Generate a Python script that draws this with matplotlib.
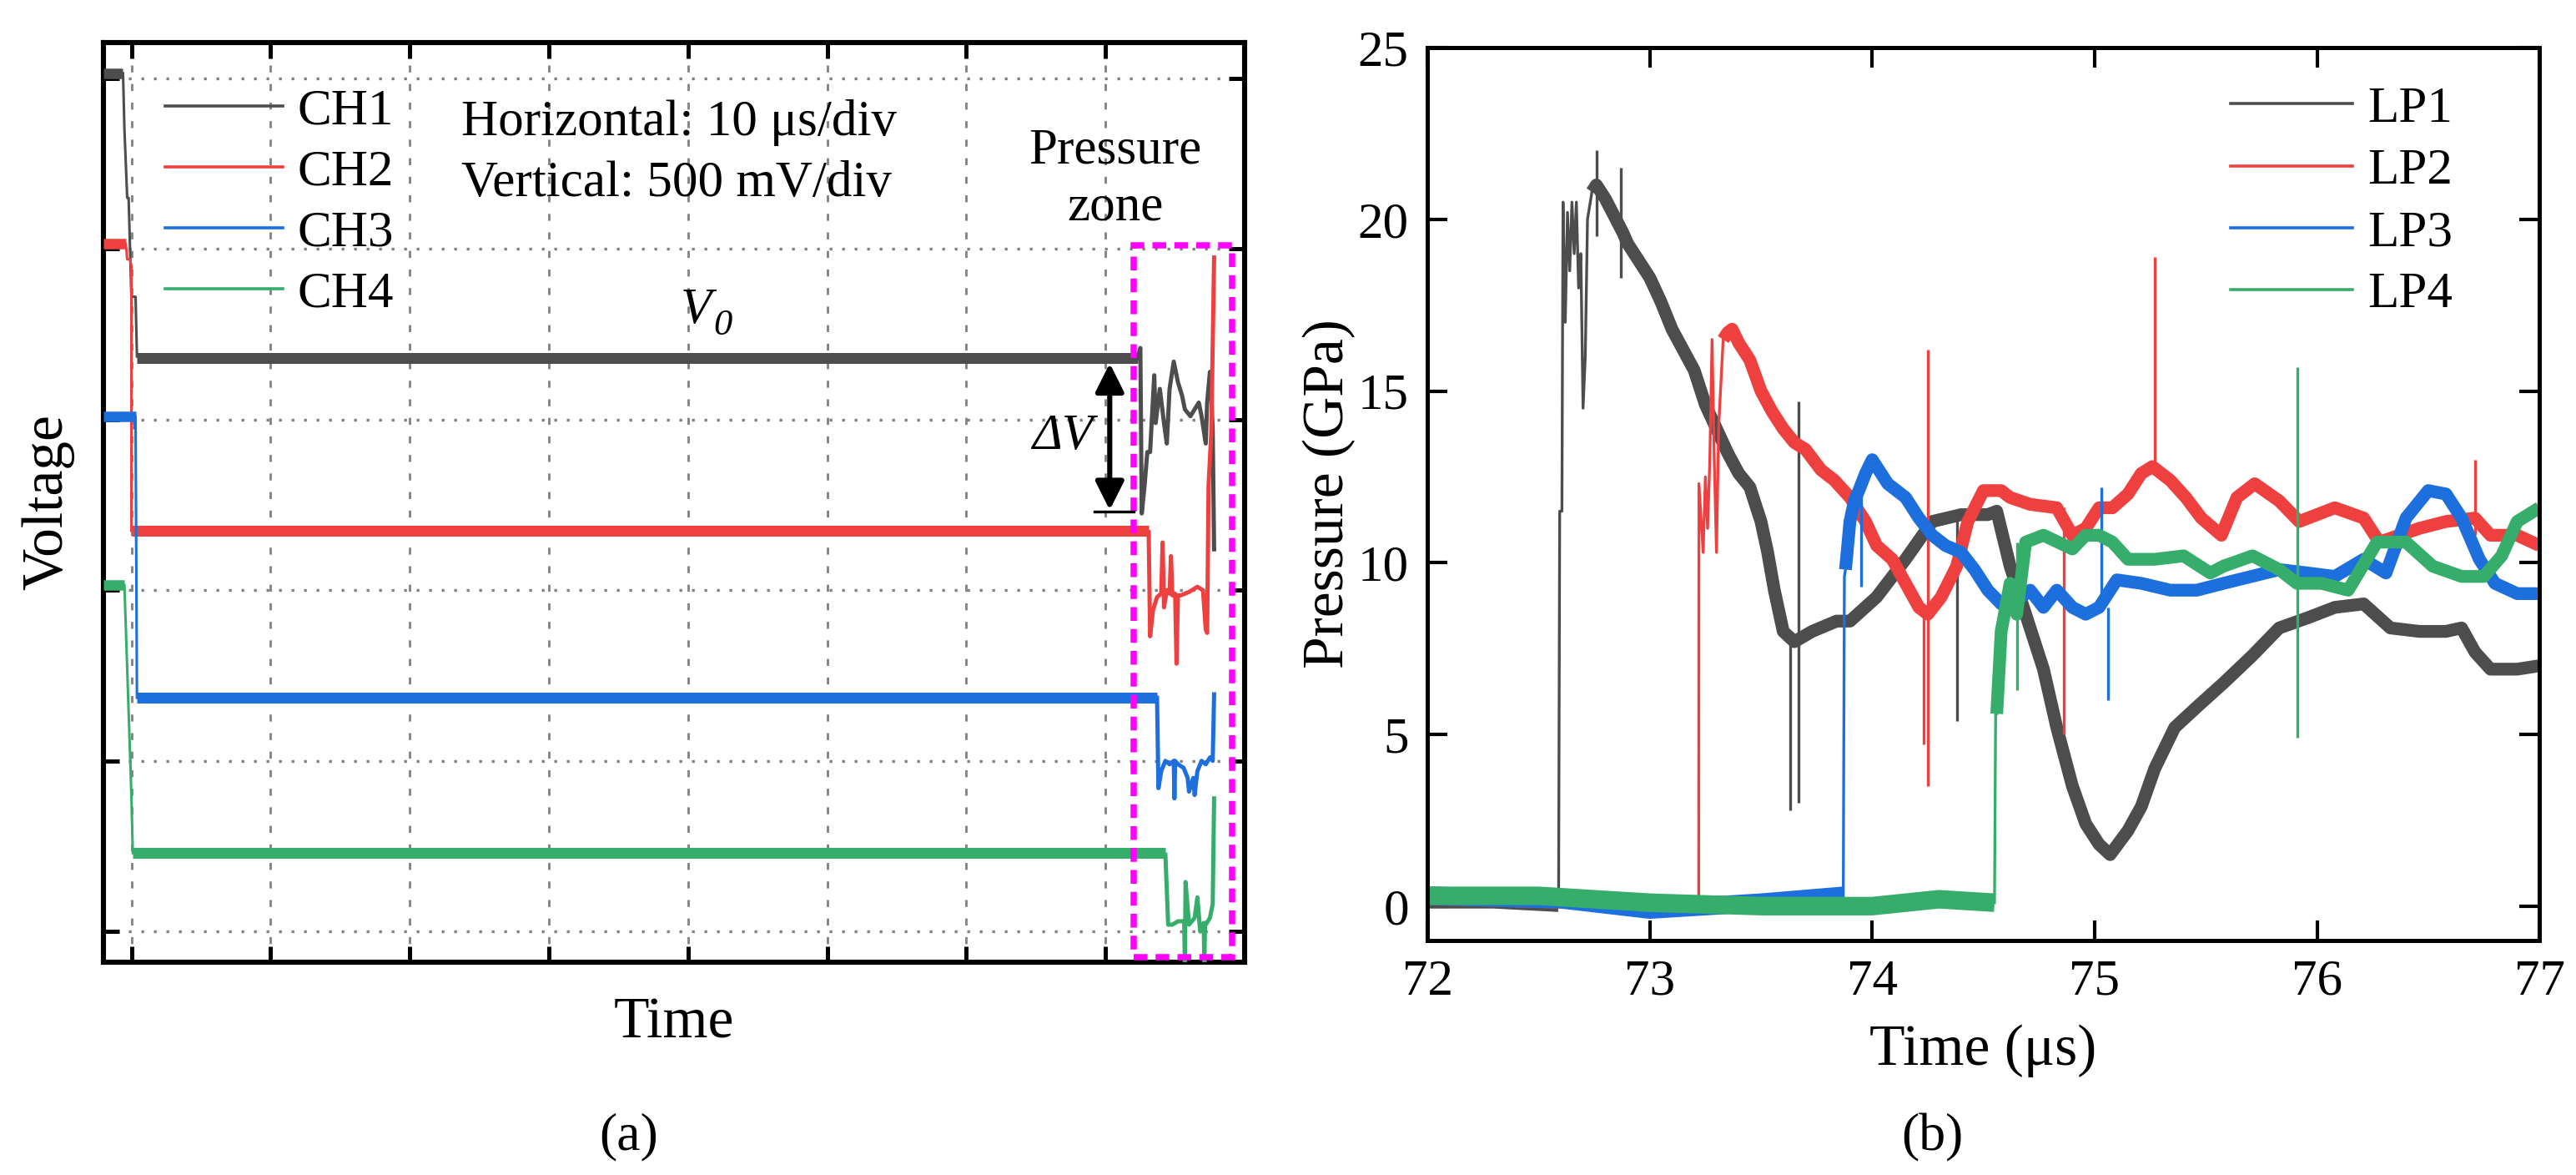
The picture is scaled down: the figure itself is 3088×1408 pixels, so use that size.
import matplotlib
matplotlib.use("Agg")
import matplotlib.pyplot as plt
from matplotlib.lines import Line2D
from matplotlib.patches import Rectangle

plt.rcParams['font.family'] = ['Liberation Serif', 'DejaVu Serif']

GRAY = "#4d4d4d"
RED = "#ef4040"
BLUE = "#1e6fde"
GREEN = "#36ad6a"

# ---------------- (a) oscilloscope traces, in divisions ----------------
ch_names = ["CH1", "CH2", "CH3", "CH4"]

# level before trigger
ch1_pre_t = [-0.2, -0.06]
ch1_pre_v = [5.03, 5.03]
ch2_pre_t = [-0.2, -0.04]
ch2_pre_v = [4.03, 4.03]
ch3_pre_t = [-0.2, 0.03]
ch3_pre_v = [3.02, 3.02]
ch4_pre_t = [-0.2, -0.05]
ch4_pre_v = [2.03, 2.03]

# falling edges
ch1_edge_t = [-0.06, -0.05, -0.03, -0.02, 0.0, 0.03, 0.04]
ch1_edge_v = [5.03, 4.7, 4.3, 4.3, 3.72, 3.72, 3.37]
ch2_edge_t = [-0.04, -0.03, -0.01, 0.0, 0.0]
ch2_edge_v = [4.03, 3.94, 3.94, 3.9, 2.35]
ch3_edge_t = [0.02, 0.03, 0.04]
ch3_edge_v = [2.95, 3.02, 1.37]
ch4_edge_t = [-0.05, 0.0, 0.01]
ch4_edge_v = [2.03, 0.8, 0.46]

# steady level V0
ch1_flat_t = [0.04, 7.23]
ch1_flat_v = [3.36, 3.36]
ch2_flat_t = [0.0, 7.31]
ch2_flat_v = [2.35, 2.35]
ch3_flat_t = [0.04, 7.37]
ch3_flat_v = [1.37, 1.37]
ch4_flat_t = [0.01, 7.43]
ch4_flat_v = [0.46, 0.46]

# pressure zone
ch1_zone_t = [7.23, 7.25, 7.26, 7.28, 7.30, 7.32, 7.35, 7.36, 7.39, 7.42, 7.44, 7.46, 7.49,
              7.52, 7.55, 7.57, 7.61, 7.64, 7.67, 7.69, 7.72, 7.73, 7.75, 7.76, 7.77, 7.78]
ch1_zone_v = [3.36, 3.42, 2.45, 2.61, 2.81, 2.81, 3.26, 2.98, 3.18, 2.98, 2.86, 3.18, 3.34,
              3.22, 3.14, 3.06, 3.02, 3.06, 3.10, 3.02, 2.86, 3.10, 3.28, 3.15, 2.93, 2.24]
ch2_zone_t = [7.31, 7.32, 7.34, 7.37, 7.40, 7.41, 7.42, 7.44, 7.46, 7.47, 7.48, 7.50, 7.51,
              7.52, 7.54, 7.60, 7.66, 7.70, 7.72, 7.73, 7.74, 7.76, 7.78]
ch2_zone_v = [2.34, 1.73, 1.88, 1.96, 1.98, 2.28, 1.90, 2.00, 1.98, 2.20, 1.97, 1.98, 1.57,
              1.97, 1.97, 1.99, 2.02, 2.00, 1.77, 1.75, 2.61, 2.93, 3.95]
ch3_zone_t = [7.37, 7.38, 7.40, 7.43, 7.46, 7.49, 7.495, 7.50, 7.52, 7.56, 7.59, 7.60, 7.63,
              7.64, 7.66, 7.69, 7.72, 7.75, 7.77, 7.78]
ch3_zone_v = [1.37, 0.84, 0.94, 1.00, 0.98, 1.00, 0.78, 1.00, 0.98, 0.96, 0.90, 0.82, 0.90,
              0.80, 0.94, 1.00, 0.98, 1.02, 1.00, 1.39]
ch4_zone_t = [7.43, 7.45, 7.48, 7.52, 7.565, 7.57, 7.575, 7.60, 7.64, 7.66, 7.68, 7.705,
              7.71, 7.715, 7.72, 7.75, 7.77, 7.78]
ch4_zone_v = [0.45, 0.04, 0.04, 0.06, 0.06, -0.2, 0.29, 0.04, 0.08, 0.20, 0.00, 0.05,
              -0.18, 0.05, 0.04, 0.08, 0.16, 0.78]

zone_box = [7.2, 7.91, -0.15, 4.02]      # x0, x1, y0, y1

# ---------------- (b) pressure histories ----------------
lp_names = ["LP1", "LP2", "LP3", "LP4"]

lp1_base_t = [72.0, 72.3, 72.59]
lp1_base_p = [0.2, 0.2, 0.1]
lp2_base_t = [72.0, 72.6, 73.22]
lp2_base_p = [0.3, 0.2, 0.0]
lp3_base_t = [72.0, 72.6, 73.0, 73.5, 73.87]
lp3_base_p = [0.3, 0.2, -0.1, 0.1, 0.3]
lp4_base_t = [72.0, 72.5, 73.0, 73.5, 74.0, 74.3, 74.55]
lp4_base_p = [0.3, 0.3, 0.1, 0.0, 0.0, 0.2, 0.1]

# thin jagged fronts
lp1_edge_t = [72.59, 72.595, 72.605, 72.61, 72.62, 72.63, 72.64, 72.65, 72.66, 72.67,
              72.68, 72.69, 72.70, 72.71, 72.72, 72.74]
lp1_edge_p = [0.1, 11.5, 11.5, 20.5, 17.0, 20.2, 18.5, 20.5, 19.0, 20.5,
              18.0, 19.0, 14.5, 16.0, 20.0, 20.8]
lp2_edge_t = [73.22, 73.221, 73.24, 73.25, 73.26, 73.27, 73.28, 73.29, 73.30, 73.31, 73.33]
lp2_edge_p = [0.1, 12.3, 10.3, 12.5, 11.0, 13.0, 16.5, 13.0, 10.3, 14.0, 16.5]
lp3_edge_t = [73.87, 73.875, 73.88]
lp3_edge_p = [0.3, 9.6, 9.8]
lp4_edge_t = [74.55, 74.555, 74.56]
lp4_edge_p = [0.1, 5.6, 5.6]

lp1_t = [72.74, 72.76, 72.80, 72.84, 72.88, 72.90, 72.95, 73.00, 73.05,
         73.10, 73.15, 73.20, 73.25, 73.30, 73.35, 73.40, 73.45, 73.50, 73.53, 73.56, 73.60,
         73.65, 73.73, 73.84, 73.90, 74.02, 74.15, 74.27, 74.40, 74.52, 74.56, 74.62, 74.70,
         74.77, 74.83, 74.90, 74.96, 75.02, 75.07, 75.15, 75.21, 75.27, 75.36, 75.46, 75.58,
         75.71, 75.83, 75.96, 76.08, 76.21, 76.33, 76.46, 76.58, 76.65, 76.71, 76.78, 76.90,
         77.00]
lp1_p = [20.8, 21.0, 20.6, 20.1, 19.6, 19.3, 18.8, 18.3, 17.6,
         16.8, 16.2, 15.6, 14.6, 13.9, 13.2, 12.6, 12.2, 11.2, 10.3, 9.2, 8.0,
         7.7, 8.0, 8.3, 8.3, 9.0, 10.1, 11.2, 11.4, 11.4, 11.5, 9.9, 8.3,
         6.9, 5.2, 3.5, 2.4, 1.8, 1.5, 2.2, 2.9, 4.0, 5.2, 5.8, 6.5,
         7.3, 8.1, 8.4, 8.7, 8.8, 8.1, 8.0, 8.0, 8.1, 7.4, 6.9, 6.9,
         7.0]
lp2_t = [73.33, 73.35, 73.37, 73.40, 73.45, 73.50, 73.55, 73.60,
         73.65, 73.70, 73.77, 73.83, 73.90, 73.97, 74.02, 74.09, 74.15, 74.21, 74.25, 74.31,
         74.38, 74.43, 74.50, 74.58, 74.62, 74.71, 74.83, 74.90, 74.96, 75.02, 75.08, 75.15,
         75.21, 75.26, 75.34, 75.41, 75.48, 75.57, 75.64, 75.72, 75.83, 75.92, 76.08, 76.21,
         76.28, 76.37, 76.46, 76.58, 76.71, 76.78, 76.90, 77.00]
lp2_p = [16.5, 16.7, 16.8, 16.4, 15.9, 15.0, 14.4, 13.9,
         13.5, 13.3, 12.7, 12.4, 11.9, 11.2, 10.5, 10.1, 9.4, 8.7, 8.5, 9.0,
         9.9, 11.2, 12.1, 12.1, 11.9, 11.7, 11.6, 10.8, 11.0, 11.6, 11.6, 12.0,
         12.6, 12.8, 12.4, 11.9, 11.3, 10.8, 11.9, 12.3, 11.8, 11.2, 11.6, 11.3,
         10.6, 10.8, 11.0, 11.2, 11.3, 10.8, 10.8, 10.5]
lp3_t = [73.88, 73.90, 73.92, 73.94, 73.97, 74.00, 74.07, 74.15, 74.21, 74.27, 74.33, 74.40,
         74.46, 74.52, 74.58, 74.65, 74.71, 74.77, 74.83, 74.90, 74.96, 75.02, 75.10, 75.21,
         75.34, 75.46, 75.58, 75.83, 75.96, 76.08, 76.21, 76.31, 76.40, 76.50, 76.58, 76.65,
         76.73, 76.80, 76.90, 77.00]
lp3_p = [9.8, 11.2, 11.8, 12.1, 12.6, 13.0, 12.3, 11.9, 11.3, 10.8, 10.5, 10.3,
         9.8, 9.2, 8.8, 8.9, 9.2, 8.7, 9.2, 8.7, 8.5, 8.7, 9.5, 9.4,
         9.2, 9.2, 9.4, 9.8, 9.7, 9.6, 10.1, 9.7, 11.3, 12.1, 12.0, 11.3,
         10.1, 9.4, 9.1, 9.1]
lp4_t = [74.56, 74.58, 74.62, 74.65, 74.69, 74.77, 74.90, 74.96, 75.02, 75.08, 75.15, 75.27,
         75.40, 75.52, 75.58, 75.71, 75.83, 75.91, 76.02, 76.14, 76.27, 76.40, 76.52, 76.65,
         76.75, 76.83, 76.90, 77.00]
lp4_p = [5.6, 8.0, 9.4, 8.5, 10.6, 10.8, 10.4, 10.8, 10.8, 10.6, 10.1, 10.1,
         10.2, 9.7, 9.9, 10.2, 9.8, 9.4, 9.4, 9.2, 10.6, 10.6, 9.9, 9.6,
         9.6, 10.2, 11.2, 11.6]

# isolated spikes: time, low, high
lp1_spikes = [(72.76, 19.5, 22.0), (72.87, 18.3, 21.5), (73.63, 2.8, 7.8), (73.67, 3.0, 14.7),
              (74.38, 5.4, 11.4)]
lp2_spikes = [(74.23, 4.7, 8.7), (74.25, 3.5, 16.2), (74.86, 5.0, 11.6), (75.27, 12.8, 18.9),
              (76.71, 10.8, 13.0)]
lp3_spikes = [(73.95, 9.3, 12.1), (75.03, 8.7, 12.2), (75.06, 6.0, 8.7)]
lp4_spikes = [(74.65, 6.3, 10.6), (75.91, 4.9, 15.7)]

fig = plt.figure(figsize=(15.44, 7.04), dpi=200)
ax1 = fig.add_axes([0.0402, 0.1811, 0.443, 0.7827])
ax2 = fig.add_axes([0.5541, 0.1996, 0.4317, 0.7599])

# ---- panel (a)
channels = [
    (GRAY, ch1_pre_t, ch1_pre_v, ch1_edge_t, ch1_edge_v, ch1_flat_t, ch1_flat_v, ch1_zone_t, ch1_zone_v),
    (RED, ch2_pre_t, ch2_pre_v, ch2_edge_t, ch2_edge_v, ch2_flat_t, ch2_flat_v, ch2_zone_t, ch2_zone_v),
    (BLUE, ch3_pre_t, ch3_pre_v, ch3_edge_t, ch3_edge_v, ch3_flat_t, ch3_flat_v, ch3_zone_t, ch3_zone_v),
    (GREEN, ch4_pre_t, ch4_pre_v, ch4_edge_t, ch4_edge_v, ch4_flat_t, ch4_flat_v, ch4_zone_t, ch4_zone_v),
]
for c, pt, pv, et, ev, ft, fv, zt, zv in channels:
    ax1.plot(pt, pv, color=c, lw=4.5, solid_capstyle='butt', zorder=3)
    ax1.plot(et, ev, color=c, lw=1.1, zorder=3)
    ax1.plot(ft, fv, color=c, lw=4.7, solid_capstyle='butt', zorder=3)
    ax1.plot(zt, zv, color=c, lw=1.8, zorder=3)

ax1.add_patch(Rectangle((zone_box[0], zone_box[2]), zone_box[1] - zone_box[0],
                        zone_box[3] - zone_box[2], fill=False, edgecolor='#ff00ff',
                        lw=2.7, linestyle=(0, (2.2, 1.3)), zorder=5))

ax1.annotate('', xy=(7.03, 3.33), xytext=(7.03, 2.47),
             arrowprops=dict(arrowstyle='<|-|>', color='black', lw=2.2,
                             mutation_scale=26, shrinkA=0, shrinkB=0), zorder=6)
ax1.plot([6.92, 7.2], [2.46, 2.46], color='black', lw=1.2, zorder=6)

ax1.text(2.37, 4.74, 'Horizontal: 10 μs/div', fontsize=22, ha='left', va='center')
ax1.text(2.37, 4.38, 'Vertical: 500 mV/div', fontsize=22, ha='left', va='center')
ax1.text(7.07, 4.41, 'Pressure\nzone', fontsize=22, ha='center', va='center', linespacing=1.3)
ax1.text(4.17, 3.64, 'V', fontsize=22, style='italic', ha='right', va='center')
ax1.text(4.18, 3.55, '0', fontsize=16, style='italic', ha='left', va='center')
ax1.text(6.69, 2.9, 'ΔV', fontsize=22, style='italic', ha='center', va='center')

ax1.set_xlim(-0.2, 8.0)
ax1.set_ylim(-0.18, 5.21)
ax1.set_xticks(range(0, 8))
ax1.set_yticks(range(0, 6))
ax1.set_axisbelow(True)
ax1.xaxis.grid(True, color='#808080', linestyle=(0, (3, 5)), lw=1.0)
ax1.yaxis.grid(True, color='#808080', linestyle=(0, (1, 3.5)), lw=1.2)
ax1.tick_params(direction='in', length=7, width=1.8, top=True, right=True,
                labelbottom=False, labelleft=False)
for s in ax1.spines.values():
    s.set_linewidth(2.2)
ax1.set_xlabel('Time', fontsize=25, va='center')
ax1.xaxis.set_label_coords(0.5, -0.067)
ax1.set_ylabel('Voltage', fontsize=25, va='center')
ax1.yaxis.set_label_coords(-0.049, 0.5)

h1 = [Line2D([], [], color=c, lw=1.3) for c in [GRAY, RED, BLUE, GREEN]]
ax1.legend(h1, ch_names, loc='upper left', bbox_to_anchor=(0.054, 0.95), frameon=False,
           fontsize=22, handlelength=2.3, handletextpad=0.3, labelspacing=0.28,
           borderaxespad=0, borderpad=0)

# ---- panel (b)
series = [
    (GRAY, lp1_base_t, lp1_base_p, lp1_edge_t, lp1_edge_p, lp1_t, lp1_p, lp1_spikes),
    (RED, lp2_base_t, lp2_base_p, lp2_edge_t, lp2_edge_p, lp2_t, lp2_p, lp2_spikes),
    (BLUE, lp3_base_t, lp3_base_p, lp3_edge_t, lp3_edge_p, lp3_t, lp3_p, lp3_spikes),
    (GREEN, lp4_base_t, lp4_base_p, lp4_edge_t, lp4_edge_p, lp4_t, lp4_p, lp4_spikes),
]
for c, bt, bp, et, ep, t, p, spikes in series:
    ax2.plot(bt, bp, color=c, lw=8, solid_capstyle='butt')
    ax2.plot(et, ep, color=c, lw=1.2)
    ax2.plot(t, p, color=c, lw=5.5, solid_capstyle='butt')
    ax2.vlines([s[0] for s in spikes], [s[1] for s in spikes], [s[2] for s in spikes],
               color=c, lw=1.2)

ax2.set_xlim(72, 77)
ax2.set_ylim(-1, 25)
ax2.set_xticks(range(72, 78))
ax2.set_yticks(range(0, 26, 5))
ax2.tick_params(direction='in', length=8.5, width=1.5, top=True, right=True,
                labelsize=22, pad=8)
for s in ax2.spines.values():
    s.set_linewidth(1.8)
ax2.set_xlabel('Time (μs)', fontsize=25, va='center')
ax2.xaxis.set_label_coords(0.5, -0.124)
ax2.set_ylabel('Pressure (GPa)', fontsize=25, va='center')
ax2.yaxis.set_label_coords(-0.088, 0.5)

h2 = [Line2D([], [], color=c, lw=1.3) for c in [GRAY, RED, BLUE, GREEN]]
ax2.legend(h2, lp_names, loc='upper left', bbox_to_anchor=(0.722, 0.957), frameon=False,
           fontsize=22, handlelength=2.4, handletextpad=0.3, labelspacing=0.3,
           borderaxespad=0, borderpad=0)

fig.text(0.244, 0.032, '(a)', fontsize=23, ha='center', va='center')
fig.text(0.750, 0.032, '(b)', fontsize=23, ha='center', va='center')

fig.savefig('out.png', dpi=200)
